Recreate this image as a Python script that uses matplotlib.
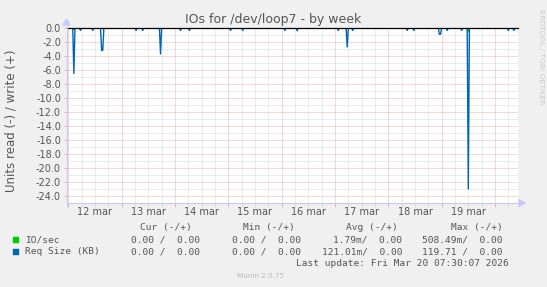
import numpy as np
import matplotlib
matplotlib.use("Agg")
import matplotlib.pyplot as plt
from matplotlib.patches import Rectangle, Polygon
from matplotlib.transforms import blended_transform_factory

# ---------------- data ----------------
title = "IOs for /dev/loop7 - by week"
y_label = "Units read (-) / write (+)"
day_labels = ["12 mar", "13 mar", "14 mar", "15 mar", "16 mar", "17 mar", "18 mar", "19 mar"]
y_ticks = [0.0, -2.0, -4.0, -6.0, -8.0, -10.0, -12.0, -14.0, -16.0, -18.0, -20.0, -22.0, -24.0]

# spikes of the read side (days since 12 mar 00:00, value)
req_spike_days = [0.1125, 0.238, 0.45, 0.635, 0.656, 1.269, 1.388, 1.719, 2.108, 2.269,
                  3.032, 3.281, 4.063, 4.301, 5.063, 5.231, 5.325, 6.345, 6.488,
                  6.96, 6.98, 7.107, 7.377, 7.502, 8.25, 8.363]
req_spike_vals = [6.5, 0.35, 0.35, 3.2, 3.2, 0.35, 0.35, 3.7, 0.35, 0.35,
                  0.35, 0.35, 0.35, 0.4, 0.35, 2.7, 0.35, 0.35, 0.35,
                  0.9, 0.9, 0.35, 0.35, 23.0, 0.35, 0.35]
io_spike_days = [0.1125, 1.719, 7.502]
io_spike_vals = [0.2, 0.1, 0.5]

legend_names = ["IO/sec", "Req Size (KB)"]
legend_colors = ["#00cc00", "#0066b3"]
col_headers = ["Cur (-/+)", "Min (-/+)", "Avg (-/+)", "Max (-/+)"]
legend_values = [
    ["0.00 /  0.00", "0.00 /  0.00", "1.79m/  0.00", "508.49m/  0.00"],
    ["0.00 /  0.00", "0.00 /  0.00", "121.01m/  0.00", "119.71 /  0.00"],
]
last_update = "Last update: Fri Mar 20 07:30:07 2026"
munin_ver = "Munin 2.0.75"
watermark = "RRDTOOL / TOBI OETIKER"

x_start, x_end = -0.034, 8.432
y_min, y_max = -25.0, 0.0

# --------------- series on 30-min steps ---------------
step = 1.0 / 48
t = np.arange(np.floor(x_start / step) * step, x_end + step, step)

def build(days, vals):
    v = np.zeros_like(t)
    for d, val in zip(days, vals):
        v[int(round((d - t[0]) / step))] = val
    return v

req = build(req_spike_days, req_spike_vals)
io = build(io_spike_days, io_spike_vals)

# --------------- figure ---------------
W, H = 547, 287
fig = plt.figure(figsize=(W / 100, H / 100), dpi=100, facecolor="#f0f0f0")
L, R, T, B = 66.5, 518, 28, 203
ax = fig.add_axes([L / W, 1 - B / H, (R - L) / W, (B - T) / H])
ax.set_facecolor("white")
ax.set_xlim(x_start, x_end)
ax.set_ylim(y_min, y_max)
for s in ax.spines.values():
    s.set_visible(False)

minor_c = "#dadada"
major_c = "#eeb2b2"
axis_c = "#c8c8f0"
dots = (0, (1, 1))

# minor grid
for k in range(int(np.ceil(x_start * 4)), int(np.floor(x_end * 4)) + 1):
    if k % 4 != 0:
        ax.axvline(k / 4, color=minor_c, lw=0.72, ls=dots, zorder=1)
for yv in np.arange(-25, 0.5, 1.0):
    if int(yv) % 2 != 0:
        ax.axhline(yv, color=minor_c, lw=0.72, ls=dots, zorder=1)
# major grid
for d in range(0, len(day_labels) + 1):
    if x_start < d < x_end:
        ax.axvline(d, color=major_c, lw=0.72, ls=dots, zorder=1.1)
for yv in y_ticks:
    ax.axhline(yv, color=major_c, lw=0.72, ls=dots, zorder=1.1)

# series
ax.plot(t, -io, color=legend_colors[0], lw=1.0, zorder=3)
ax.plot(t, -req, color=legend_colors[1], lw=1.0, zorder=4)
ax.axhline(0, color="black", lw=0.9, zorder=5, clip_on=False)

# ticks
ax.set_yticks(y_ticks)
ax.set_yticklabels([f"{v:.1f}" for v in y_ticks])
ax.tick_params(axis="y", length=2, width=0.7, color=major_c, labelsize=7,
               labelcolor="#555555", pad=2)
ax.set_xticks([d for d in range(0, len(day_labels) + 1) if x_start < d < x_end])
ax.set_xticklabels([])
ax.set_xticks([k / 4 for k in range(int(np.ceil(x_start * 4)), int(np.floor(x_end * 4)) + 1)
               if k % 4 != 0], minor=True)
ax.tick_params(axis="x", which="major", length=3, width=0.7, color=major_c)
ax.tick_params(axis="x", which="minor", length=3, width=0.7, color=minor_c)

tr = blended_transform_factory(ax.transData, fig.transFigure)
for i, lab in enumerate(day_labels):
    ax.text(i + 0.5, 1 - 212 / H, lab, transform=tr, ha="center", va="center",
            fontsize=7, color="#555555")

# axis lines with arrows (pixel coords)
def px(x, y):
    return (x / W, 1 - y / H)
fig.add_artist(plt.Line2D([px(L, 0)[0], px(521, 0)[0]], [px(0, B)[1]] * 2,
                          color=axis_c, lw=0.8, transform=fig.transFigure))
fig.add_artist(plt.Line2D([px(L, 0)[0]] * 2, [px(0, B + 3)[1], px(0, 22)[1]],
                          color=axis_c, lw=0.8, transform=fig.transFigure))
fig.add_artist(Polygon([px(519, B - 3.5), px(519, B + 3.5), px(525, B)], closed=True,
                       color="#c8c8ff", transform=fig.transFigure))
fig.add_artist(Polygon([px(L - 3.5, 25), px(L + 3.5, 25), px(L, 19)], closed=True,
                       color="#c8c8ff", transform=fig.transFigure))

# texts
fig.text(273.5 / W, 1 - 19 / H, title, ha="center", va="center", fontsize=9, color="#555555")
fig.text(11 / W, 1 - 121 / H, y_label, rotation=90, ha="center", va="center",
         fontsize=8.5, color="#555555")
fig.text(541 / W, 1 - 9 / H, watermark, rotation=270, ha="center", va="top",
         fontsize=5.4, color="#cccccc")

mono = dict(family="DejaVu Sans Mono", fontsize=6.8, color="#555555", va="center")
hdr_right = [192, 295, 398, 503]
val_right = [200, 301, 402, 503]
for h, xr in zip(col_headers, hdr_right):
    fig.text(xr / W, 1 - 227.3 / H, h, ha="right", **mono)
row_y = [240, 252]
for name, col, vals, y in zip(legend_names, legend_colors, legend_values, row_y):
    fig.add_artist(Rectangle(px(13.3, y + 2.8), 5.6 / W, 5.6 / H, facecolor=col,
                             edgecolor=col, lw=0.3, transform=fig.transFigure))
    fig.text(25 / W, 1 - y / H, name, ha="left", **mono)
    for v, xr in zip(vals, val_right):
        fig.text(xr / W, 1 - y / H, v, ha="right", **mono)
fig.text(509 / W, 1 - 263.3 / H, last_update, ha="right", **mono)
fig.text(260.5 / W, 1 - 276 / H, munin_ver, ha="center", va="center", fontsize=5.2,
         color="#bbbbbb")

fig.savefig("out.png", dpi=100, facecolor=fig.get_facecolor())
